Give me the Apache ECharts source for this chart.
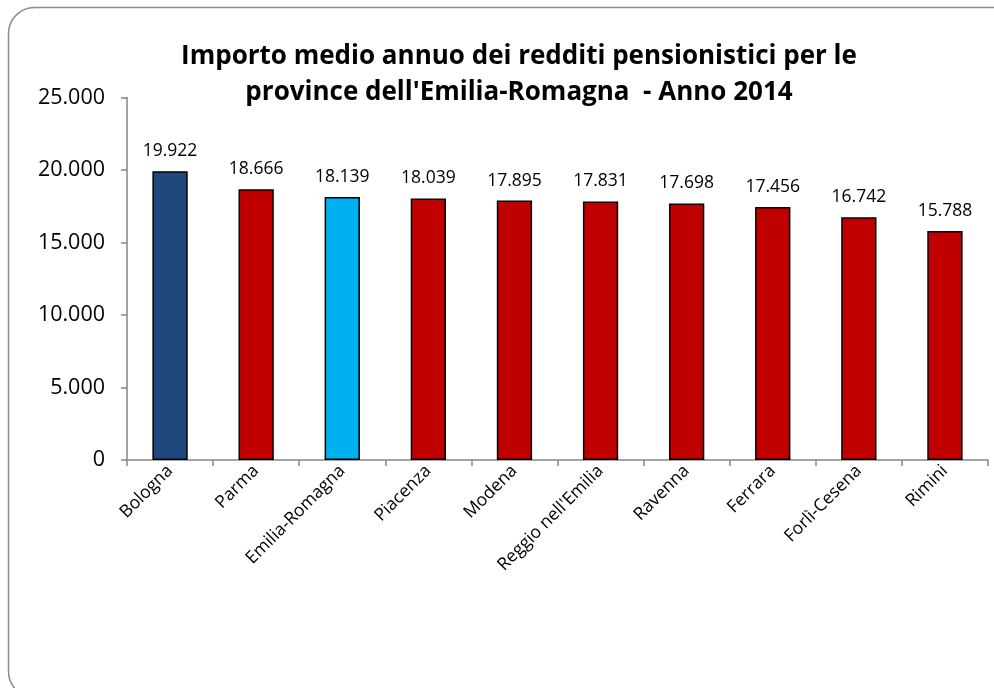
<!DOCTYPE html>
<html>
<head>
<meta charset="utf-8">
<script src="https://cdn.jsdelivr.net/npm/echarts@6/dist/echarts.min.js"></script>
<style>
  html, body { margin: 0; padding: 0; background: #ffffff; }
  #chart { width: 994px; height: 688px; }
</style>
</head>
<body>
<div id="chart"></div>
<script>
// Importo medio annuo dei redditi pensionistici, province dell'Emilia-Romagna, 2014
const categories = ['Bologna', 'Parma', 'Emilia-Romagna', 'Piacenza', 'Modena',
  "Reggio nell'Emilia", 'Ravenna', 'Ferrara', 'Forlì-Cesena', 'Rimini'];
const values = [19922, 18666, 18139, 18039, 17895, 17831, 17698, 17456, 16742, 15788];
const yTicks = [0, 5000, 10000, 15000, 20000, 25000];

const titleLines = [
  'Importo medio annuo dei redditi pensionistici per le',
  "province dell'Emilia-Romagna  - Anno 2014"
];

// bar colours: capoluogo and regional total stand out from the other provinces
const baseColor = '#C00000';
const specialColors = { 'Bologna': '#1F497D', 'Emilia-Romagna': '#00B0F0' };

const FONT = '"Open Sans", "Noto Sans", sans-serif';

function fmtIt(v) {
  return String(Math.round(v)).replace(/\B(?=(\d{3})+(?!\d))/g, '.');
}

const chart = echarts.init(document.getElementById('chart'), null, { renderer: 'canvas' });

chart.setOption({
  animation: false,
  backgroundColor: '#ffffff',
  textStyle: { fontFamily: FONT },
  graphic: [
    {
      type: 'rect',
      z: -10,
      shape: { x: 8.5, y: 7.5, width: 1010, height: 690, r: 26 },
      style: { fill: '#ffffff', stroke: '#8c8c8c', lineWidth: 1.5 }
    },
    {
      type: 'text',
      style: {
        x: 519, y: 57,
        text: titleLines[0],
        textAlign: 'center', textVerticalAlign: 'middle',
        font: 'bold 26px ' + FONT,
        fill: '#000000'
      }
    },
    {
      type: 'text',
      style: {
        x: 519, y: 93,
        text: titleLines[1],
        textAlign: 'center', textVerticalAlign: 'middle',
        font: 'bold 26px ' + FONT,
        fill: '#000000'
      }
    }
  ],
  grid: { left: 127, right: 6, top: 97.5, bottom: 228, containLabel: false },
  xAxis: {
    type: 'category',
    data: categories,
    boundaryGap: true,
    axisLine: { lineStyle: { color: '#868686', width: 1.5 } },
    axisTick: { show: true, alignWithLabel: false, length: 6, lineStyle: { color: '#868686', width: 1.5 } },
    axisLabel: {
      rotate: 45, interval: 0, margin: 8,
      color: '#000000', fontSize: 17.5, fontFamily: FONT
    },
    splitLine: { show: false }
  },
  yAxis: {
    type: 'value',
    min: yTicks[0],
    max: yTicks[yTicks.length - 1],
    interval: yTicks[1] - yTicks[0],
    axisLine: { show: true, lineStyle: { color: '#868686', width: 1.5 } },
    axisTick: { show: true, length: 6, lineStyle: { color: '#868686', width: 1.5 } },
    axisLabel: {
      margin: 22, color: '#000000', fontSize: 21.5, fontFamily: FONT,
      formatter: fmtIt
    },
    splitLine: { show: false }
  },
  series: [{
    type: 'bar',
    barWidth: '41%',
    data: values.map((v, i) => ({
      value: v,
      itemStyle: { color: specialColors[categories[i]] || baseColor }
    })),
    itemStyle: { borderColor: '#000000', borderWidth: 1.5 },
    label: {
      show: true, position: 'top', distance: 11,
      color: '#000000', fontSize: 17.5, fontFamily: FONT,
      formatter: p => fmtIt(p.value)
    }
  }]
});
</script>
</body>
</html>
